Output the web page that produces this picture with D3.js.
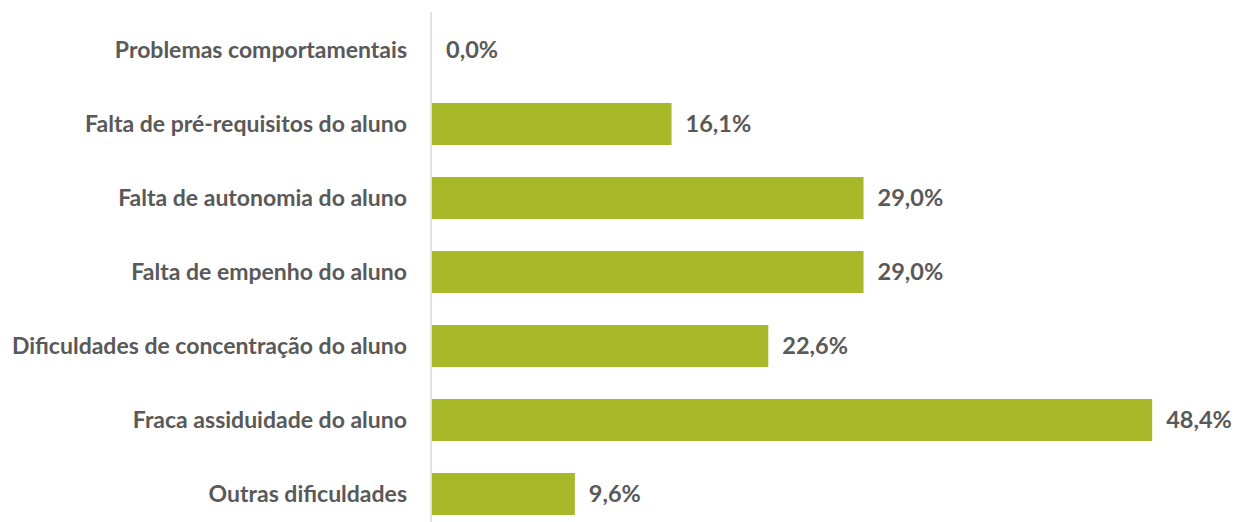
<!DOCTYPE html>
<html><head><meta charset="utf-8">
<script src="https://cdn.jsdelivr.net/npm/d3@7"></script>
<style>body{margin:0;background:#fff}svg{display:block}text{font-family:Lato,"Open Sans",sans-serif;font-weight:700;fill:#595959}</style>
</head><body>
<svg id="c" width="1238" height="522"></svg>
<script>
const categories = ["Problemas comportamentais","Falta de pré-requisitos do aluno","Falta de autonomia do aluno","Falta de empenho do aluno","Dificuldades de concentração do aluno","Fraca assiduidade do aluno","Outras dificuldades"];
const values = [0.0,16.1,29.0,29.0,22.6,48.4,9.6];

const svg = d3.select("#c");
const x = d3.scaleLinear().domain([0,50]).range([432,1176]);
const y = d3.scaleBand().domain(categories).range([13,531]).paddingInner(0.432).paddingOuter(0.216);
const fmt = v => d3.format(".1f")(v).replace(".", ",") + "%";

svg.selectAll("rect.bar").data(values).join("rect").attr("class","bar")
  .attr("x", x(0)).attr("y",(d,i)=>y(categories[i])).attr("width",d=>x(d)-x(0)).attr("height",y.bandwidth())
  .attr("fill","#a7b829");

svg.append("line").attr("x1",431).attr("x2",431).attr("y1",12).attr("y2",522).attr("stroke","#d9d9d9").attr("stroke-width",1.5);

svg.selectAll("text.cat").data(categories).join("text").attr("class","cat")
  .attr("x",407).attr("y",d=>y(d)+y.bandwidth()/2).attr("dy","0.35em").attr("text-anchor","end")
  .style("font-size","23px").text(d=>d);

svg.selectAll("text.val").data(values).join("text").attr("class","val")
  .attr("x",d=>x(d)+14).attr("y",(d,i)=>y(categories[i])+y.bandwidth()/2).attr("dy","0.35em")
  .style("font-size","23.5px").text(d=>fmt(d));
</script>
</body></html>
